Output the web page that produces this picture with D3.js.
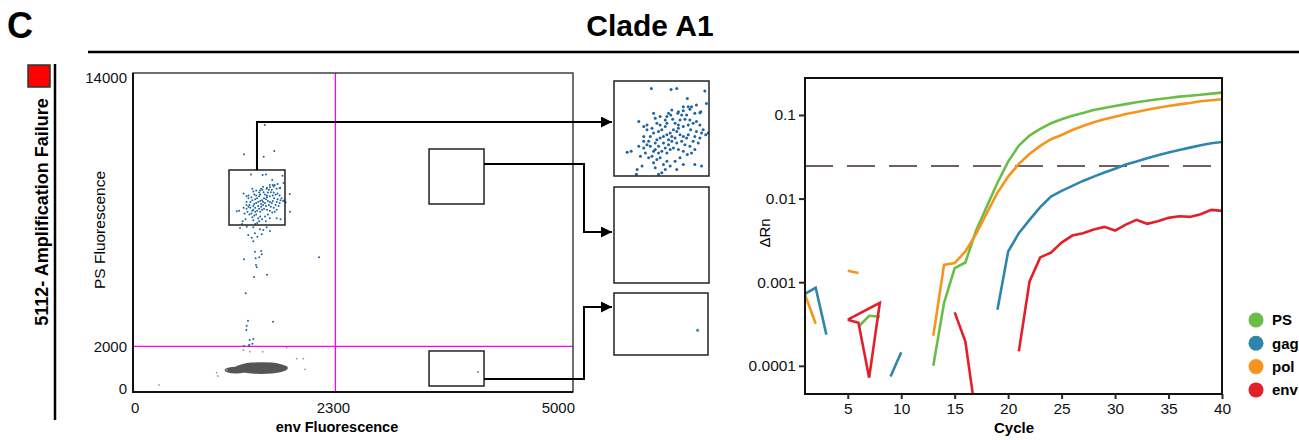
<!DOCTYPE html>
<html>
<head>
<meta charset="utf-8">
<script src="https://cdn.jsdelivr.net/npm/d3@7"></script>
<style>
  body { margin: 0; background: #fff; }
  svg { font-family: "Liberation Sans", Arial, Helvetica, sans-serif; }
</style>
</head>
<body>
<div id="chart"></div>
<script>
// ---------------- data: droplet scatter (env vs PS fluorescence) ----------------
const envTicks = [0, 2300, 5000];
const psTicks = [0, 2000, 14000];
const envThreshold = 2300;
const psThreshold = 2000;

// PS-positive droplets [env, PS]
const psDroplets = [
  [1341,9550],[1473,9525],[1511,9550],[1699,9491],[1582,9299],[1710,9173],[1643,9131],[1610,9089],
  [1599,9022],[1555,8989],[1544,8880],[1518,8922],[1478,9005],[1456,8922],[1445,8838],[1471,8880],
  [1484,8771],[1533,8754],[1566,8771],[1577,8880],[1632,8922],[1643,8712],[1621,8670],[1666,8938],
  [1672,8964],[1599,8754],[1500,8670],[1522,8628],[1555,8586],[1588,8628],[1604,8503],[1643,8461],
  [1677,8419],[1705,8377],[1721,8419],[1356,8922],[1257,8712],[1290,8586],[1367,8796],[1378,8670],
  [1400,8628],[1434,8586],[1445,8670],[1411,8503],[1389,8461],[1356,8419],[1334,8335],[1323,8209],
  [1290,8209],[1312,8126],[1334,8084],[1367,8167],[1378,8251],[1400,8293],[1422,8335],[1445,8377],
  [1467,8419],[1489,8503],[1511,8461],[1533,8377],[1555,8335],[1577,8293],[1544,8209],[1511,8167],
  [1478,8209],[1456,8126],[1434,8042],[1411,7958],[1389,7916],[1367,8000],[1345,7832],[1378,7748],
  [1400,7790],[1445,7916],[1467,8000],[1489,8042],[1522,8000],[1555,7958],[1582,7874],[1610,7916],
  [1632,8000],[1655,8167],[1666,8293],[1621,8209],[1599,8084],[1533,7790],[1500,7706],[1467,7581],
  [1434,7497],[1411,7413],[1389,7371],[1367,7539],[1356,7665],[1323,7790],[1301,7916],[1268,7832],
  [1279,7581],[1246,7497],[1241,7371],[1179,7933],[1206,7958],[1257,8084],[1290,8335],[1312,8503],
  [1345,8545],[1632,7623],[1677,7581],[1511,7497],[1555,7623],[1422,7623],[1445,7706],[1566,8126],
  [1588,8377],[1632,8335],[1389,8084],[1422,8167],[1456,8251],[1478,8335],[1500,8293],[1522,8545],
  [1434,8754],[1400,8838],[1588,9089],[1522,8964],[1555,9089],[1666,8628],[1688,8503],[1312,8628],
  [1290,8042],[1356,7958],
  [1497,11719],[1261,10433],[1485,10327],[1606,10577],[1781,8690],[1784,7913],[1735,8326],
  [1367,7229],[1443,7141],[1519,7229],[1292,7255],[1386,6965],[1413,6816],[1349,6772],[1367,6614],
  [1463,6922],[1481,7110],[1310,6891],[1557,7066],[1216,7198],
  [1386,6158],[1455,6188],[1394,5868],[1435,5912],[1463,6044],[1261,5824],[1398,5574],[1406,5473],
  [1523,5148],[1375,5047],[1281,4332],[1307,3129],[1591,3085],[1292,2910],[1288,2721],[1326,2282],
  [1367,2326],[1356,2120],[1322,2076],[1261,2019],[1315,2019],[2114,5912]
];
// env-positive droplets [env, PS]
const envDroplets = [[3920, 878]];
// negative droplet population (centre and spread) and stray negatives
const negCloud = [
  { env: 1460, ps: 1050, sdEnv: 300, sdPs: 260 },
  { env: 1170, ps: 960, sdEnv: 130, sdPs: 150 }
];
const negStray = [[295,307],[951,847],[963,702],[1065,966],[1860,1462],[1935,1462],[1955,996],
  [1330,1769],[1474,1769],[1253,1843],[1747,1944]];
// gates that are magnified on the right [env range, PS range]
const gates = [
  { env: [1091, 1727], ps: [7329, 9743] },
  { env: [3364, 3989], ps: [8251, 10665] },
  { env: [3364, 3989], ps: [263, 1800] }
];

// ---------------- data: amplification curves ----------------
const genes = ["PS", "gag", "pol", "env"];
const geneColors = ["#6bbd45", "#2f86ad", "#f7941d", "#e3202a"];
const cycleTicks = [5, 10, 15, 20, 25, 30, 35, 40];
const rnTicks = [0.1, 0.01, 0.001, 0.0001];
const threshold = 0.0246;

const psCurve = [
  [[6,2.93e-4],[7,3.97e-4],[8,3.86e-4]],
  [[13,1.00e-4],[14,5.62e-4],[15,1.47e-3],[16,1.72e-3],[17,4.15e-3],[18,8.02e-3],[19,0.0155],[20,0.0277],
   [21,0.0430],[22,0.0566],[23,0.0681],[24,0.0796],[25,0.0889],[26,0.0981],[27,0.1057],[28,0.1148],
   [29,0.1213],[30,0.128],[31,0.135],[32,0.142],[33,0.148],[34,0.154],[35,0.160],[36,0.166],
   [37,0.170],[38,0.175],[39,0.180],[40,0.185]]
];
const gagCurve = [
  [[1,7.26e-4],[2,8.57e-4],[3,2.36e-4]],
  [[9,7.46e-5],[10,1.45e-4]],
  [[19,4.68e-4],[20,2.33e-3],[21,3.86e-3],[22,5.57e-3],[23,7.89e-3],[24,0.01057],[25,0.01236],[26,0.01419],
   [27,0.01627],[28,0.01832],[29,0.0205],[30,0.0228],[31,0.0255],[32,0.0277],[33,0.0304],[34,0.0330],
   [35,0.0355],[36,0.0382],[37,0.0407],[38,0.0434],[39,0.0459],[40,0.0476]]
];
const polCurve = [
  [[1,7.07e-4],[2,3.18e-4]],
  [[5,1.37e-3],[6,1.29e-3]],
  [[13,2.29e-4],[14,1.61e-3],[15,1.69e-3],[16,2.33e-3],[17,3.79e-3],[18,6.68e-3],[19,0.0118],[20,0.0183],
   [21,0.0260],[22,0.0342],[23,0.0427],[24,0.0513],[25,0.0577],[26,0.0662],[27,0.0740],[28,0.0818],
   [29,0.0889],[30,0.0955],[31,0.1028],[32,0.1086],[33,0.1157],[34,0.1222],[35,0.128],[36,0.134],
   [37,0.139],[38,0.146],[39,0.150],[40,0.154]]
];
const envCurve = [
  [[5,3.56e-4],[6,3.27e-4],[7,7.21e-5],[8,5.68e-4],[5,3.56e-4]],
  [[15,4.35e-4],[16,1.95e-4],[17,2.4e-5]],
  [[21,1.49e-4],[22,1.02e-3],[23,1.98e-3],[24,2.26e-3],[25,2.98e-3],[26,3.61e-3],[27,3.86e-3],[28,4.27e-3],
   [29,4.59e-3],[30,4.15e-3],[31,4.89e-3],[32,5.57e-3],[33,4.99e-3],[34,5.37e-3],[35,5.88e-3],[36,6.16e-3],
   [37,6.04e-3],[38,6.51e-3],[39,7.33e-3],[40,7.13e-3]]
];
const curves = [psCurve, gagCurve, polCurve, envCurve];

// ---------------- svg ----------------
const svg = d3.select("#chart")
  .append("svg")
  .attr("width", 1299)
  .attr("height", 440);

const defs = svg.append("defs");
defs.append("marker")
  .attr("id", "arrow")
  .attr("viewBox", "0 0 10 10")
  .attr("refX", 10).attr("refY", 5)
  .attr("markerUnits", "userSpaceOnUse")
  .attr("markerWidth", 14).attr("markerHeight", 11)
  .attr("orient", "auto")
  .append("path")
  .attr("d", "M0,0L10,5L0,10Z")
  .attr("fill", "#000");
defs.append("filter").attr("id", "soft")
  .append("feGaussianBlur").attr("stdDeviation", 0.7);

// header
svg.append("text")
  .attr("x", 7).attr("y", 38)
  .attr("font-size", "36px").attr("font-weight", "bold")
  .text("C");
svg.append("text")
  .attr("x", 650).attr("y", 36)
  .attr("text-anchor", "middle")
  .attr("font-size", "30px").attr("font-weight", "bold")
  .text("Clade A1");
svg.append("line")
  .attr("x1", 88).attr("x2", 1299).attr("y1", 52).attr("y2", 52)
  .attr("stroke", "#000").attr("stroke-width", 2.5);

// side label
svg.append("rect")
  .attr("x", 28).attr("y", 65).attr("width", 22).attr("height", 22)
  .attr("fill", "#ff0000").attr("stroke", "#333").attr("stroke-width", 1.5);
svg.append("line")
  .attr("x1", 55).attr("x2", 55).attr("y1", 64).attr("y2", 420)
  .attr("stroke", "#000").attr("stroke-width", 2.5);
svg.append("text")
  .attr("transform", "translate(48,212) rotate(-90)")
  .attr("text-anchor", "middle")
  .attr("font-size", "18px").attr("font-weight", "bold")
  .text("5112- Amplification Failure");

// ---------------- scatter ----------------
const xEnv = d3.scaleLinear().domain([0, 5000]).range([133, 573]);
const yPs = d3.scaleLinear().domain([0, 14000]).range([392, 73]);

const scat = svg.append("g");

// negative cloud
scat.selectAll("ellipse.neg")
  .data(negCloud)
  .enter()
  .append("ellipse")
  .attr("class", "neg")
  .attr("cx", d => xEnv(d.env))
  .attr("cy", d => yPs(d.ps))
  .attr("rx", d => xEnv(d.env + d.sdEnv) - xEnv(d.env))
  .attr("ry", d => yPs(d.ps) - yPs(d.ps + d.sdPs))
  .attr("fill", "#555")
  .attr("filter", "url(#soft)");

scat.selectAll("circle.stray")
  .data(negStray)
  .enter()
  .append("circle")
  .attr("class", "stray")
  .attr("cx", d => xEnv(d[0]))
  .attr("cy", d => yPs(d[1]))
  .attr("r", 0.9)
  .attr("fill", "#9a9a9a");

// threshold lines
scat.append("line")
  .attr("x1", xEnv(envThreshold)).attr("x2", xEnv(envThreshold))
  .attr("y1", yPs(14000)).attr("y2", yPs(0))
  .attr("stroke", "#ff00ff").attr("stroke-width", 1.3);
scat.append("line")
  .attr("x1", xEnv(0)).attr("x2", xEnv(5000))
  .attr("y1", yPs(psThreshold)).attr("y2", yPs(psThreshold))
  .attr("stroke", "#ff00ff").attr("stroke-width", 1.3);

scat.selectAll("circle.pos")
  .data(psDroplets)
  .enter()
  .append("circle")
  .attr("class", "pos")
  .attr("cx", d => xEnv(d[0]))
  .attr("cy", d => yPs(d[1]))
  .attr("r", 1)
  .attr("fill", "#1f64a2");

scat.selectAll("circle.envpos")
  .data(envDroplets)
  .enter()
  .append("circle")
  .attr("class", "envpos")
  .attr("cx", d => xEnv(d[0]))
  .attr("cy", d => yPs(d[1]))
  .attr("r", 0.9)
  .attr("fill", "#2e9e4a");

// frame
scat.append("rect")
  .attr("x", xEnv(0)).attr("y", yPs(14000))
  .attr("width", xEnv(5000) - xEnv(0)).attr("height", yPs(0) - yPs(14000))
  .attr("fill", "none").attr("stroke", "#333").attr("stroke-width", 1.4);
scat.append("path")
  .attr("d", `M${xEnv(0)},${yPs(14000)}V${yPs(0)}H${xEnv(5000)}`)
  .attr("fill", "none").attr("stroke", "#111").attr("stroke-width", 2);

// axes
const psAxis = scat.append("g")
  .attr("transform", `translate(${xEnv(0) - 6},0)`)
  .call(d3.axisLeft(yPs).tickValues(psTicks).tickFormat(d => d).tickSize(0).tickPadding(0));
psAxis.attr("font-family", null).select(".domain").remove();
psAxis.selectAll("text")
  .attr("font-size", "15px").attr("fill", "#111")
  .attr("dy", d => d === 14000 ? "0.65em" : d === 0 ? "0.1em" : "0.32em");

scat.append("g")
  .selectAll("text")
  .data(envTicks)
  .enter()
  .append("text")
  .attr("x", d => d === 0 ? xEnv(d) - 2 : d === 5000 ? xEnv(d) + 2 : xEnv(d) - 2)
  .attr("y", 413)
  .attr("text-anchor", (d, i) => i === 0 ? "start" : i === envTicks.length - 1 ? "end" : "middle")
  .attr("font-size", "15px").attr("fill", "#111")
  .text(d => d);

svg.append("text")
  .attr("transform", "translate(105,230) rotate(-90)")
  .attr("text-anchor", "middle")
  .attr("font-size", "15.5px")
  .text("PS Fluorescence");
svg.append("text")
  .attr("x", 337).attr("y", 432)
  .attr("text-anchor", "middle")
  .attr("font-size", "14.5px").attr("font-weight", "bold")
  .text("env Fluorescence");

// gates
scat.selectAll("rect.gate")
  .data(gates)
  .enter()
  .append("rect")
  .attr("class", "gate")
  .attr("x", d => xEnv(d.env[0]))
  .attr("y", d => yPs(d.ps[1]))
  .attr("width", d => xEnv(d.env[1]) - xEnv(d.env[0]))
  .attr("height", d => yPs(d.ps[0]) - yPs(d.ps[1]))
  .attr("fill", "none").attr("stroke", "#222").attr("stroke-width", 1.5);

// insets
const insets = [
  { x: 614, y: 81, w: 95, h: 95 },
  { x: 614, y: 187, w: 95, h: 96 },
  { x: 614, y: 293, w: 94, h: 62 }
];
insets.forEach((b, i) => {
  const g = gates[i];
  const xi = d3.scaleLinear().domain(g.env).range([b.x, b.x + b.w]);
  const yi = d3.scaleLinear().domain(g.ps).range([b.y + b.h, b.y]);
  defs.append("clipPath").attr("id", "inset" + i)
    .append("rect").attr("x", b.x).attr("y", b.y).attr("width", b.w).attr("height", b.h);
  const ig = svg.append("g").attr("clip-path", `url(#inset${i})`);
  ig.selectAll("circle.pos")
    .data(psDroplets)
    .enter()
    .append("circle")
    .attr("cx", d => xi(d[0]))
    .attr("cy", d => yi(d[1]))
    .attr("r", 1.5)
    .attr("fill", "#1f64a2");
  ig.selectAll("circle.envpos")
    .data(envDroplets)
    .enter()
    .append("circle")
    .attr("cx", d => xi(d[0]))
    .attr("cy", d => yi(d[1]))
    .attr("r", 1.5)
    .attr("fill", "#2e9e4a");
  svg.append("rect")
    .attr("x", b.x).attr("y", b.y).attr("width", b.w).attr("height", b.h)
    .attr("fill", "none").attr("stroke", "#222").attr("stroke-width", 1.5);
});

// connectors from gates to insets
const g0 = gates[0], g1 = gates[1], g2 = gates[2];
const arrows = [
  `M${xEnv((g0.env[0] + g0.env[1]) / 2)},${yPs(g0.ps[1])}V122H${insets[0].x - 2}`,
  `M${xEnv(g1.env[1])},164H584V232H${insets[1].x - 2}`,
  `M${xEnv(g2.env[1])},379H584V307H${insets[2].x - 2}`
];
svg.selectAll("path.arrow")
  .data(arrows)
  .enter()
  .append("path")
  .attr("d", d => d)
  .attr("fill", "none")
  .attr("stroke", "#000")
  .attr("stroke-width", 2)
  .attr("marker-end", "url(#arrow)");

// ---------------- amplification plot ----------------
const xC = d3.scaleLinear().domain([1, 40]).range([805, 1222]);
const yR = d3.scaleLog().domain([4.6e-5, 0.277]).range([394, 78]);

const amp = svg.append("g");
defs.append("clipPath").attr("id", "ampclip")
  .append("rect").attr("x", 805).attr("y", 78).attr("width", 417).attr("height", 316);

amp.append("line")
  .attr("x1", xC(1)).attr("x2", 1211)
  .attr("y1", yR(threshold)).attr("y2", yR(threshold))
  .attr("stroke", "#6e6060").attr("stroke-width", 2)
  .attr("stroke-dasharray", "28,14");

const line = d3.line()
  .x(d => xC(d[0]))
  .y(d => yR(d[1]));

const curveG = amp.append("g").attr("clip-path", "url(#ampclip)");
curves.forEach((segs, i) => {
  curveG.selectAll("path.c" + i)
    .data(segs)
    .enter()
    .append("path")
    .attr("class", "c" + i)
    .attr("d", line)
    .attr("fill", "none")
    .attr("stroke", geneColors[i])
    .attr("stroke-width", 2.6);
});

amp.append("rect")
  .attr("x", 805).attr("y", 78).attr("width", 417).attr("height", 316)
  .attr("fill", "none").attr("stroke", "#111").attr("stroke-width", 2);

const yAxis = amp.append("g")
  .attr("transform", "translate(805,0)")
  .call(d3.axisLeft(yR).tickValues(rnTicks).tickFormat(d => String(d)).tickSize(6).tickSizeOuter(0).tickPadding(3));
const xAxis = amp.append("g")
  .attr("transform", "translate(0,394)")
  .call(d3.axisBottom(xC).tickValues(cycleTicks).tickSize(5).tickSizeOuter(0).tickPadding(4));
[yAxis, xAxis].forEach(a => {
  a.attr("font-family", null);
  a.select(".domain").remove();
  a.selectAll("line").attr("stroke", "#3b2020").attr("stroke-width", 2);
  a.selectAll("text").attr("font-size", "15.5px").attr("fill", "#111");
});

svg.append("text")
  .attr("transform", "translate(770,233) rotate(-90)")
  .attr("text-anchor", "middle")
  .attr("font-size", "15px")
  .text("\u0394Rn");
svg.append("text")
  .attr("x", 1014).attr("y", 433)
  .attr("text-anchor", "middle")
  .attr("font-size", "15px").attr("font-weight", "bold")
  .text("Cycle");

// legend
const legend = svg.selectAll(".legend")
  .data(genes)
  .enter()
  .append("g")
  .attr("class", "legend")
  .attr("transform", (d, i) => `translate(1256,${320 + i * 23.3})`);
legend.append("circle")
  .attr("r", 7.5)
  .attr("fill", (d, i) => geneColors[i]);
legend.append("text")
  .attr("x", 16).attr("dy", "0.36em")
  .attr("font-size", "15px").attr("font-weight", "bold")
  .text(d => d);
</script>
</body>
</html>
